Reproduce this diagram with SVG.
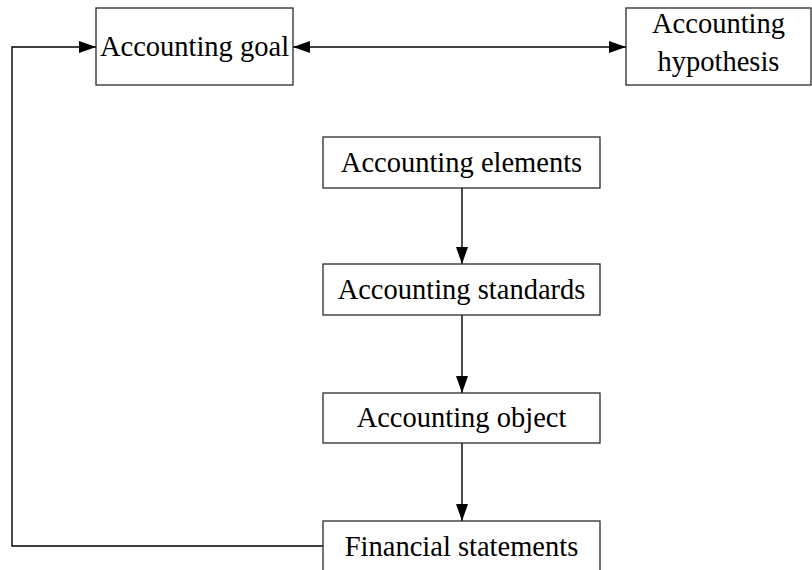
<svg xmlns="http://www.w3.org/2000/svg" width="812" height="570" viewBox="0 0 812 570">
<defs>
<style>
.box{fill:#fff;stroke:#2a2a2a;stroke-width:1.3}
.t{font-family:"Liberation Serif","Times New Roman",serif;font-size:28.5px;fill:#000;text-anchor:middle}
.c{fill:none;stroke:#000;stroke-width:1.4}
</style>
<marker id="ah" viewBox="0 0 17 12" refX="17" refY="6" markerWidth="17" markerHeight="12" markerUnits="userSpaceOnUse" orient="auto-start-reverse">
<path d="M0,0 L17,6 L0,12 Z" fill="#000"/>
</marker>
</defs>
<rect width="812" height="570" fill="#fff"/>
<g id="connectors">
<line class="c" x1="293" y1="47" x2="626" y2="47" marker-start="url(#ah)" marker-end="url(#ah)"/>
<line class="c" x1="462" y1="188" x2="462" y2="264" marker-end="url(#ah)"/>
<line class="c" x1="462" y1="315" x2="462" y2="393" marker-end="url(#ah)"/>
<line class="c" x1="462" y1="443" x2="462" y2="521" marker-end="url(#ah)"/>
<path class="c" d="M323,546 H12 V47 H96" marker-end="url(#ah)"/>
</g>
<g id="goal">
<rect class="box" x="96" y="8" width="197" height="77"/>
<text class="t" x="194.5" y="56">Accounting goal</text>
</g>
<g id="hypothesis">
<rect class="box" x="626" y="8" width="185" height="77"/>
<text class="t" x="718.5" y="33">Accounting</text>
<text class="t" x="718.5" y="71">hypothesis</text>
</g>
<g id="elements">
<rect class="box" x="323" y="137" width="277" height="51"/>
<text class="t" x="461.5" y="172">Accounting elements</text>
</g>
<g id="standards">
<rect class="box" x="323" y="264" width="277" height="51"/>
<text class="t" x="461.5" y="299">Accounting standards</text>
</g>
<g id="object">
<rect class="box" x="323" y="393" width="277" height="50"/>
<text class="t" x="461.5" y="427">Accounting object</text>
</g>
<g id="financial">
<rect class="box" x="323" y="521" width="277" height="52"/>
<text class="t" x="461.5" y="556">Financial statements</text>
</g>
</svg>
